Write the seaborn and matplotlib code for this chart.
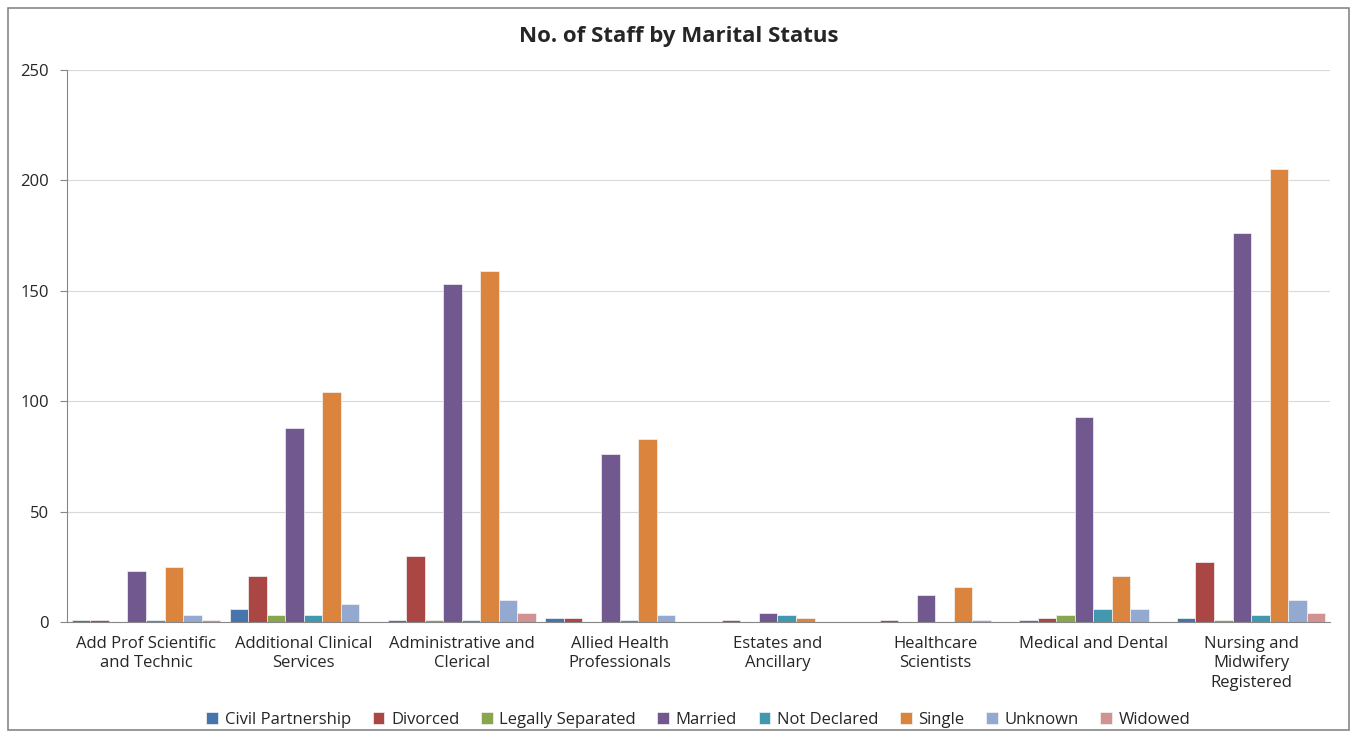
import numpy as np
import pandas as pd
import matplotlib.pyplot as plt
import seaborn as sns
from matplotlib.patches import Rectangle

groups = ['Add Prof Scientific\nand Technic', 'Additional Clinical\nServices',
          'Administrative and\nClerical', 'Allied Health\nProfessionals',
          'Estates and\nAncillary', 'Healthcare\nScientists',
          'Medical and Dental', 'Nursing and\nMidwifery\nRegistered']
statuses = ['Civil Partnership', 'Divorced', 'Legally Separated', 'Married',
            'Not Declared', 'Single', 'Unknown', 'Widowed']

civil_partnership = [1, 6, 1, 2, 0, 0, 1, 2]
divorced = [1, 21, 30, 2, 1, 1, 2, 27]
legally_separated = [0, 3, 1, 0, 0, 0, 3, 1]
married = [23, 88, 153, 76, 4, 12, 93, 176]
not_declared = [1, 3, 1, 1, 3, 0, 6, 3]
single = [25, 104, 159, 83, 2, 16, 21, 205]
unknown = [3, 8, 10, 3, 0, 1, 6, 10]
widowed = [1, 0, 4, 0, 0, 0, 0, 4]

colors = ['#4674AC', '#AA4644', '#89A54E', '#71588F', '#4198AF',
          '#DB843D', '#93A9CF', '#D19392']

series = [civil_partnership, divorced, legally_separated, married,
          not_declared, single, unknown, widowed]
rows = []
for status, vals in zip(statuses, series):
    for g, v in zip(groups, vals):
        rows.append({'group': g, 'status': status, 'count': v})
df = pd.DataFrame(rows)

sns.set_style('white')
plt.rcParams['font.family'] = ['Open Sans', 'DejaVu Sans']

fig = plt.figure(figsize=(13.57, 7.38), dpi=100)
ax = fig.add_axes([0.0494, 0.1572, 0.9307, 0.748])

sns.barplot(data=df, x='group', y='count', hue='status', order=groups,
            hue_order=statuses, palette=colors, saturation=1, width=0.94,
            ax=ax, edgecolor='#F4F4F4', linewidth=0.5, errorbar=None)

ax.set_ylim(0, 250)
ax.set_xlim(-0.5, len(groups) - 0.5)
ax.set_yticks([0, 50, 100, 150, 200, 250])
ax.yaxis.grid(True, color='#D9D9D9', linewidth=0.8)
ax.set_axisbelow(True)
ax.set_xlabel('')
ax.set_ylabel('')
ax.tick_params(axis='x', which='major', length=0, labelsize=12, pad=10)
ax.set_xticks(np.arange(-0.5, len(groups)), minor=True)
ax.tick_params(axis='x', which='minor', length=5, color='#868686', width=0.8)
ax.tick_params(axis='y', length=5, color='#868686', width=0.8, labelsize=12,
               pad=8, left=True)
for lbl in ax.get_xticklabels():
    lbl.set_linespacing(1.3)

for side in ['top', 'right']:
    ax.spines[side].set_visible(False)
for side in ['left', 'bottom']:
    ax.spines[side].set_color('#868686')
    ax.spines[side].set_linewidth(0.8)

ax.legend(loc='center', bbox_to_anchor=(0.5, -0.177), ncol=8, frameon=False,
          fontsize=12, handlelength=0.7, handleheight=0.7, handletextpad=0.4,
          columnspacing=1.3)

fig.text(0.5, 0.951, 'No. of Staff by Marital Status', ha='center', va='center',
         fontsize=16, fontweight='bold')

fig.patches.append(Rectangle((8 / 1357, 8 / 738), 1 - 16 / 1357, 1 - 16 / 738,
                             transform=fig.transFigure, fill=False,
                             edgecolor='#868686', linewidth=1.2))

fig.savefig('out.png', dpi=100)
